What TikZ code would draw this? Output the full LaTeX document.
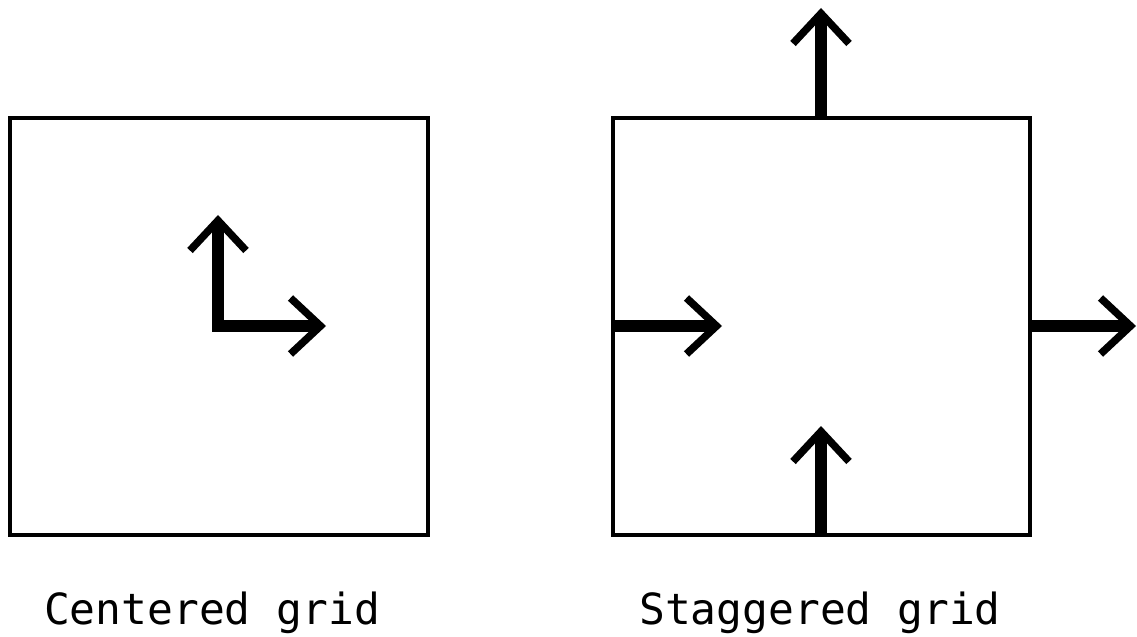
\documentclass[tikz,border=0pt]{standalone}
\usepackage{fontspec}
\newfontfamily\gridfont{DejaVu Sans Mono}
\usetikzlibrary{arrows.meta}

\begin{document}
\begin{tikzpicture}[x=0.01cm, y=-0.01cm,
    cell/.style={line width=0.04cm},
    vec/.style={line width=0.12cm, -{Straight Barb[length=0.3cm, width=0.56cm, line width=0.075cm]}},
    caption/.style={font=\gridfont\fontsize{12.2pt}{14pt}\selectfont, inner sep=0pt}]

\useasboundingbox (0,0) rectangle (1137,637);

% centered grid
\coordinate (c0) at (10,118);
\coordinate (c1) at (428,535);
\coordinate (cv) at (218,332);
\coordinate (ch) at (212,326);
\coordinate (cu) at (218,215);
\coordinate (cr) at (326,326);

% staggered grid
\coordinate (s0) at (613,118);
\coordinate (s1) at (1030,535);
\coordinate (sl) at (613,326);
\coordinate (slt) at (722,326);
\coordinate (sr) at (1030,326);
\coordinate (srt) at (1136,326);
\coordinate (sb) at (821,535);
\coordinate (sbt) at (821,426);
\coordinate (st) at (821,118);
\coordinate (stt) at (821,8);

\draw [cell] (c0) rectangle (c1);
\draw [cell] (s0) rectangle (s1);

\draw [vec] (cv) -- (cu);
\draw [vec] (ch) -- (cr);

\foreach \a/\b in {sl/slt, sr/srt, sb/sbt, st/stt}
    \draw [vec] (\a) -- (\b);

\node [caption, anchor=base] (lc) at (212,624) {Centered grid};
\node [caption, anchor=base] (ls) at (820,624) {Staggered grid};

\end{tikzpicture}
\end{document}
